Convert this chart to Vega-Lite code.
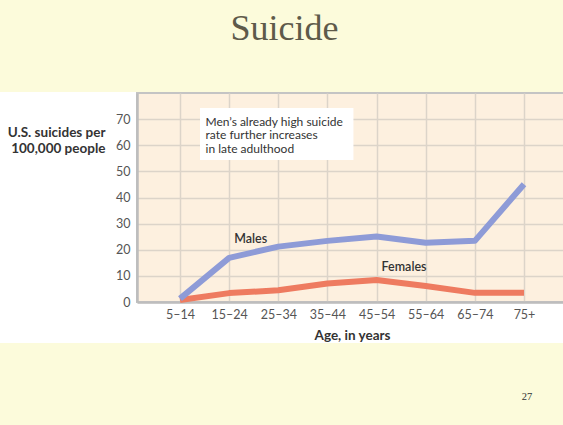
{
  "$schema": "https://vega.github.io/schema/vega-lite/v6.json",
  "background": "#ffffff",
  "padding": 0,
  "spacing": 0,
  "bounds": "full",
  "config": {"view": {"stroke": null}, "font": "Lato"},
  "vconcat": [
    {
      "width": 563,
      "height": 92,
      "view": {"fill": "#fcfbdb", "stroke": null},
      "data": {"values": [{"heading": "Suicide"}]},
      "mark": {"type": "text", "font": "Liberation Serif", "fontSize": 36, "color": "#5e5a4a", "baseline": "alphabetic", "dx": 3},
      "encoding": {
        "text": {"field": "heading"},
        "x": {"field": "heading", "type": "nominal", "axis": null},
        "y": {"value": 40}
      }
    },
    {
      "spacing": 0,
      "bounds": "flush",
      "hconcat": [
        {
          "width": 137,
          "height": 209,
          "view": {"fill": null, "stroke": null},
          "data": {"values": []},
          "mark": "point"
        },
        {
          "width": 430,
          "height": 209,
          "view": {"fill": "#fdf0df", "stroke": "#c4c4c4", "strokeWidth": 2},
          "data": {"values": [
            {"age": "5–14", "sex": "Females", "rate": 0.8},
            {"age": "15–24", "sex": "Females", "rate": 3.4},
            {"age": "25–34", "sex": "Females", "rate": 4.5},
            {"age": "35–44", "sex": "Females", "rate": 7.1},
            {"age": "45–54", "sex": "Females", "rate": 8.4},
            {"age": "55–64", "sex": "Females", "rate": 6.1},
            {"age": "65–74", "sex": "Females", "rate": 3.5},
            {"age": "75+", "sex": "Females", "rate": 3.5},
            {"age": "5–14", "sex": "Males", "rate": 1.3},
            {"age": "15–24", "sex": "Males", "rate": 16.9},
            {"age": "25–34", "sex": "Males", "rate": 21.2},
            {"age": "35–44", "sex": "Males", "rate": 23.4},
            {"age": "45–54", "sex": "Males", "rate": 25.1},
            {"age": "55–64", "sex": "Males", "rate": 22.7},
            {"age": "65–74", "sex": "Males", "rate": 23.4},
            {"age": "75+", "sex": "Males", "rate": 45.1}
          ]},
          "encoding": {
            "x": {
              "field": "age", "type": "nominal",
              "scale": {"type": "point", "padding": 0.875, "domain": ["5–14", "15–24", "25–34", "35–44", "45–54", "55–64", "65–74", "75+"]},
              "axis": {
                "grid": true, "gridColor": "#dcd4c9", "gridWidth": 1.5, "ticks": false,
                "domainColor": "#bdbdbd", "domainWidth": 2.5,
                "labelPadding": 6, "labelFontSize": 12.5, "labelColor": "#555555", "labelAngle": 0,
                "title": "Age, in years", "titleFontSize": 13.5, "titleFontWeight": "bold", "titleColor": "#333333", "titlePadding": 8
              }
            },
            "y": {
              "field": "rate", "type": "quantitative",
              "scale": {"domain": [0, 80], "nice": false},
              "axis": {
                "values": [0, 10, 20, 30, 40, 50, 60, 70],
                "grid": true, "gridColor": "#dcd4c9", "gridWidth": 1.5, "ticks": false,
                "domainColor": "#bdbdbd", "domainWidth": 2.5,
                "labelPadding": 7, "labelFontSize": 12.5, "labelColor": "#555555",
                "title": ["U.S. suicides per", "100,000 people"],
                "titleAngle": 0, "titleAlign": "right", "titleBaseline": "alphabetic",
                "titleX": -32, "titleY": 43, "titleFontSize": 13.5, "titleFontWeight": "bold",
                "titleColor": "#333333", "titleLineHeight": 16.5
              }
            }
          },
          "layer": [
            {
              "transform": [{"filter": "datum.sex === 'Females'"}],
              "mark": {"type": "line", "strokeWidth": 6, "color": "#ee7b60", "strokeCap": "butt", "strokeJoin": "round"}
            },
            {
              "transform": [{"filter": "datum.sex === 'Males'"}],
              "mark": {"type": "line", "strokeWidth": 6, "color": "#8e9bd7", "strokeCap": "butt", "strokeJoin": "round"}
            },
            {
              "data": {"values": [{"from": "5–14", "to": "35–44", "top": 74.3, "bottom": 54.4}]},
              "mark": {"type": "rect", "fill": "#ffffff", "xOffset": 20, "x2Offset": 26},
              "encoding": {
                "x": {"field": "from", "type": "nominal"},
                "x2": {"field": "to"},
                "y": {"field": "top", "type": "quantitative"},
                "y2": {"field": "bottom"}
              }
            },
            {
              "data": {"values": [{"note": "Men’s already high suicide\nrate further increases\nin late adulthood", "age": "15–24", "rate": 67.5}]},
              "mark": {"type": "text", "align": "left", "baseline": "alphabetic", "dx": -23.6, "fontSize": 12, "lineHeight": 13.5, "color": "#333333", "lineBreak": "\n"},
              "encoding": {
                "text": {"field": "note"},
                "x": {"field": "age", "type": "nominal"},
                "y": {"field": "rate", "type": "quantitative"}
              }
            },
            {
              "data": {"values": [{"label": "Males", "age": "15–24", "rate": 24}, {"label": "Females", "age": "45–54", "rate": 13.5}]},
              "mark": {"type": "text", "align": "left", "baseline": "middle", "dx": 5, "fontSize": 12.5, "fontWeight": 600, "color": "#333333"},
              "encoding": {
                "text": {"field": "label"},
                "x": {"field": "age", "type": "nominal"},
                "y": {"field": "rate", "type": "quantitative"}
              }
            }
          ]
        }
      ]
    },
    {
      "width": 563,
      "height": 82,
      "view": {"fill": "#fcfbdb", "stroke": null},
      "data": {"values": [{"page": "27"}]},
      "mark": {"type": "text", "font": "Liberation Serif", "fontSize": 10.5, "color": "#333333", "align": "center", "baseline": "middle"},
      "encoding": {
        "text": {"field": "page"},
        "x": {"value": 527},
        "y": {"value": 54}
      }
    }
  ]
}
